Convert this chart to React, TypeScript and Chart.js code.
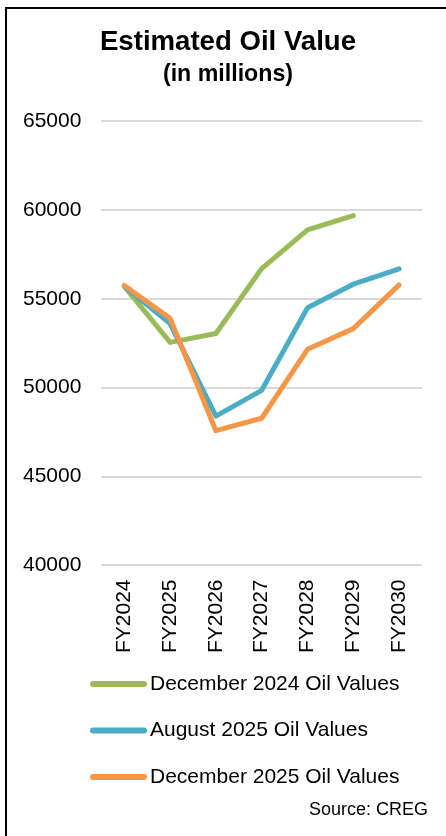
import React, { useEffect, useRef } from "react";
import { Chart, registerables } from "chart.js";

Chart.register(...registerables);

const categories = ["FY2024", "FY2025", "FY2026", "FY2027", "FY2028", "FY2029", "FY2030"];
const dec2024Values = [55700, 52550, 53050, 56700, 58880, 59680, null];
const aug2025Values = [55700, 53600, 48400, 49850, 54500, 55820, 56680];
const dec2025Values = [55750, 53900, 47580, 48280, 52160, 53320, 55780];
const yTicks = [40000, 45000, 50000, 55000, 60000, 65000];
const seriesNames = ["December 2024 Oil Values", "August 2025 Oil Values", "December 2025 Oil Values"];
const titleText = "Estimated Oil Value";
const subtitleText = "(in millions)";
const sourceText = "Source: CREG";

const FONT = '"Liberation Sans", Arial, Helvetica, sans-serif';
const GREEN = "#9BBB59";
const BLUE = "#4BACC6";
const ORANGE = "#F79646";

const decorPlugin = {
  id: "decor",
  afterDraw(chart: any) {
    const ctx = chart.ctx;
    ctx.save();
    ctx.fillStyle = "#000";
    ctx.textBaseline = "middle";
    ctx.textAlign = "center";
    ctx.font = `bold 27.6px ${FONT}`;
    ctx.fillText(titleText, 228, 42);
    ctx.font = `bold 23.2px ${FONT}`;
    ctx.fillText(subtitleText, 228, 75);

    ctx.font = `21px ${FONT}`;
    ctx.textAlign = "left";
    chart.data.datasets.forEach((ds: any, i: number) => {
      const y = 684 + i * 46.5;
      ctx.strokeStyle = ds.borderColor;
      ctx.lineWidth = 6;
      ctx.lineCap = "round";
      ctx.beginPath();
      ctx.moveTo(93, y);
      ctx.lineTo(144, y);
      ctx.stroke();
      ctx.fillStyle = "#000";
      ctx.fillText(ds.label, 150, y);
    });
    ctx.font = `18px ${FONT}`;
    ctx.textAlign = "right";
    ctx.fillText(sourceText, 428, 810);
    ctx.restore();
  },
};

export default function App() {
  const ref = useRef<HTMLCanvasElement | null>(null);

  useEffect(() => {
    if (!ref.current) return;
    const chart = new Chart(ref.current, {
      type: "line",
      data: {
        labels: categories,
        datasets: [
          {
            label: seriesNames[0],
            data: dec2024Values,
            borderColor: GREEN,
            backgroundColor: GREEN,
            order: 2,
          },
          {
            label: seriesNames[1],
            data: aug2025Values,
            borderColor: BLUE,
            backgroundColor: BLUE,
            order: 1,
          },
          {
            label: seriesNames[2],
            data: dec2025Values,
            borderColor: ORANGE,
            backgroundColor: ORANGE,
            order: 0,
          },
        ],
      },
      options: {
        responsive: false,
        animation: false,
        devicePixelRatio: 1,
        layout: { padding: { top: 121, left: 3, right: 24, bottom: 169 } },
        elements: {
          line: { borderWidth: 5, tension: 0, borderCapStyle: "round", borderJoinStyle: "round" },
          point: { radius: 0, hoverRadius: 0 },
        },
        plugins: {
          legend: { display: false },
          tooltip: { enabled: false },
          title: { display: false },
        },
        scales: {
          x: {
            offset: true,
            grid: { display: false, drawTicks: false },
            border: { display: false },
            ticks: {
              color: "#000",
              font: { family: FONT, size: 21 },
              minRotation: 90,
              maxRotation: 90,
              padding: 14,
            },
          },
          y: {
            min: 40000,
            max: 65000,
            afterBuildTicks: (axis: any) => {
              axis.ticks = yTicks.map((v) => ({ value: v }));
            },
            grid: { color: "#D9D9D9", lineWidth: 2, drawTicks: false },
            border: { display: false },
            ticks: {
              color: "#000",
              font: { family: FONT, size: 21 },
              padding: 20,
              callback: (v: any) => String(v),
            },
          },
        },
      },
      plugins: [decorPlugin],
    } as any);
    return () => chart.destroy();
  }, []);

  return (
    <div style={{ position: "fixed", left: 0, top: 0, width: 446, height: 836, background: "#fff", overflow: "hidden" }}>
      <canvas ref={ref} width={446} height={836} style={{ position: "absolute", left: 0, top: 0, width: 446, height: 836 }} />
      <div style={{ position: "absolute", left: 5, top: 7, width: 500, height: 900, borderLeft: "2px solid #000", borderTop: "2px solid #000", pointerEvents: "none" }} />
    </div>
  );
}
